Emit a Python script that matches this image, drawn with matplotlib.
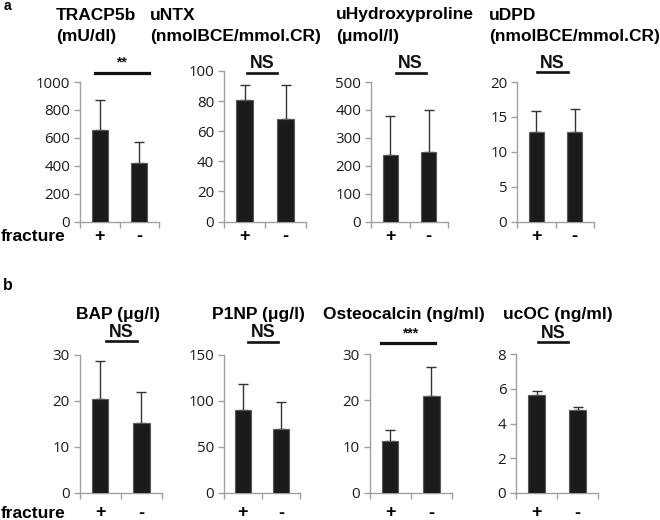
import matplotlib
matplotlib.use('Agg')
import matplotlib.pyplot as plt
from matplotlib.lines import Line2D

groups = ['+', '-']

# panel a
a_names = ['TRACP5b', 'uNTX', 'uHydroxyproline', 'uDPD']
a_units = ['(mU/dl)', '(nmolBCE/mmol.CR)', '(\u03bcmol/l)', '(nmolBCE/mmol.CR)']
a_means = [[656, 416], [80.5, 68], [240, 248], [12.9, 12.9]]
a_errs = [[214, 155], [10.2, 22.7], [137, 152], [2.9, 3.3]]
a_ymax = [1000, 100, 500, 20]
a_ystep = [200, 20, 100, 5]
a_sig = ['**', 'NS', 'NS', 'NS']

# panel b
b_titles = ['BAP (\u03bcg/l)', 'P1NP (\u03bcg/l)', 'Osteocalcin (ng/ml)', 'ucOC (ng/ml)']
b_means = [[20.4, 15.3], [90, 70], [11.2, 20.9], [5.63, 4.75]]
b_errs = [[8.3, 6.7], [29, 28.5], [2.5, 6.3], [0.22, 0.2]]
b_ymax = [30, 150, 30, 8]
b_ystep = [10, 50, 10, 2]
b_sig = ['NS', 'NS', '***', 'NS']

W, H = 660, 520
fig = plt.figure(figsize=(W / 100, H / 100), dpi=100)

BOLD = dict(family='Liberation Sans', weight='bold')
TICKFONT = 'Open Sans'
SPINE = '#a0a0a0'


def fx(x):
    return x / W


def fy(y):
    return 1 - y / H


def make_axes(box, means, errs, ymax, ystep, label_y):
    x0, x1, yt, yb = box
    ax = fig.add_axes([fx(x0), fy(yb), fx(x1 - x0), (yb - yt) / H])
    xs = list(range(len(groups)))
    ax.bar(xs, means, width=0.4, color='#1b1b1b', edgecolor='#5a5a5a',
           linewidth=0.8, zorder=3)
    ax.errorbar(xs, means, yerr=[[0] * len(errs), errs], fmt='none',
                ecolor='#333333', elinewidth=1.0, capsize=3.5, capthick=1.0,
                zorder=2)
    ax.set_xlim(-0.5, 1.5)
    ax.set_ylim(0, ymax)
    ax.set_yticks(range(0, ymax + 1, ystep))
    ax.set_xticks([-0.5, 0.5, 1.5])
    ax.set_xticklabels([])
    for s in ['top', 'right']:
        ax.spines[s].set_visible(False)
    for s in ['left', 'bottom']:
        ax.spines[s].set_color(SPINE)
        ax.spines[s].set_linewidth(1.0)
    ax.tick_params(axis='both', colors=SPINE, length=4, width=1.0, direction='out')
    ax.tick_params(axis='y', labelcolor='#1a1a1a', labelsize=10.8, pad=3)
    for lab in ax.get_yticklabels():
        lab.set_family(TICKFONT)
    ax.set_facecolor('none')
    for i, g in enumerate(groups):
        xpix = x0 + (x1 - x0) * (i + 0.5) / len(groups)
        fig.text(fx(xpix), fy(label_y), g, ha='center', va='center',
                 fontsize=13, color='black', **BOLD)
    return ax


def sig_mark(text, tx, ty, lx0, lx1, ly, underline):
    if underline:
        fig.text(fx(tx), fy(ty), text, ha='center', va='center',
                 fontsize=12.8, color='#111111', **BOLD)
        fig.add_artist(Line2D([fx(lx0), fx(lx1)], [fy(ly), fy(ly)],
                              color='#111111', lw=1.9, transform=fig.transFigure))
    else:
        fig.text(fx(tx), fy(ty), text, ha='center', va='center',
                 fontsize=10, color='#111111', **BOLD)
        fig.add_artist(Line2D([fx(lx0), fx(lx1)], [fy(ly), fy(ly)],
                              color='#111111', lw=2.3, transform=fig.transFigure))


a_boxes = [(80, 159, 82, 221.5), (224, 306, 71, 221.5),
           (371, 448, 82, 221.5), (517, 594, 82, 221.5)]
b_boxes = [(79.5, 162, 355, 493), (224, 300, 355, 493),
           (369.5, 452, 354, 493), (516, 598, 354, 493)]

a_title_x = [56, 150, 336, 489]
a_sig_pos = [(121, 62, 95, 149.3, 72.7), (262, 64, 247, 277, 73),
             (410.7, 64, 395.7, 425.7, 72.7), (552.5, 63.5, 537, 568, 71.7)]
b_title_x = [118.3, 258.7, 403.5, 558.3]
b_sig_pos = [(121.3, 332.7, 106, 136.7, 341), (263.3, 332.7, 248.3, 278.3, 341.7),
             (410, 333, 381, 435.5, 343.3), (553, 333, 537.5, 568.3, 341.7)]

for i in range(4):
    make_axes(a_boxes[i], a_means[i], a_errs[i], a_ymax[i], a_ystep[i], 237)
    fig.text(fx(a_title_x[i]), fy(15), a_names[i], ha='left', va='center',
             fontsize=12.5, color='black', **BOLD)
    fig.text(fx(a_title_x[i]), fy(37), a_units[i], ha='left', va='center',
             fontsize=12.5, color='black', **BOLD)
    tx, ty, l0, l1, ly = a_sig_pos[i]
    sig_mark(a_sig[i], tx, ty, l0, l1, ly, a_sig[i] == 'NS')

for i in range(4):
    make_axes(b_boxes[i], b_means[i], b_errs[i], b_ymax[i], b_ystep[i], 513)
    fig.text(fx(b_title_x[i]), fy(315), b_titles[i], ha='center', va='center',
             fontsize=12.5, color='black', **BOLD)
    tx, ty, l0, l1, ly = b_sig_pos[i]
    sig_mark(b_sig[i], tx, ty, l0, l1, ly, b_sig[i] == 'NS')

fig.text(fx(1), fy(237), 'fracture', ha='left', va='center', fontsize=12.5, **BOLD)
fig.text(fx(1), fy(513), 'fracture', ha='left', va='center', fontsize=12.5, **BOLD)
fig.text(fx(4), fy(6), 'a', ha='left', va='center', fontsize=10, **BOLD)
fig.text(fx(3), fy(286), 'b', ha='left', va='center', fontsize=11.5, **BOLD)

fig.savefig('out.png', dpi=100, facecolor='white')
